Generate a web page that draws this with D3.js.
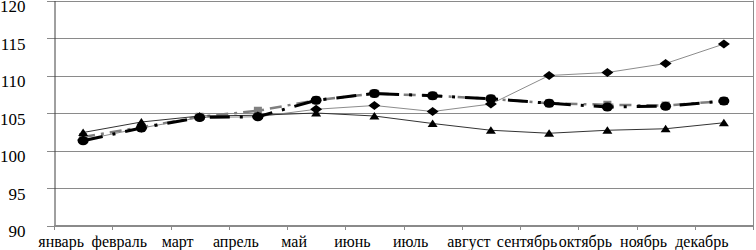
<!DOCTYPE html>
<html><head><meta charset="utf-8">
<script src="https://cdn.jsdelivr.net/npm/d3@7"></script>
<style>html,body{margin:0;padding:0;background:#fff}svg{display:block}</style>
</head><body>
<svg id="c" width="756" height="250"></svg>
<script>
const months = ["январь","февраль","март","апрель","май","июнь","июль","август","сентябрь","октябрь","ноябрь","декабрь"];
const yTicks = [90,95,100,105,110,115,120];
const seriesDiamond = [101.4,103.0,104.4,104.5,105.5,106.0,105.2,106.2,110.0,110.4,111.6,114.2];
const seriesTriangle = [102.4,103.8,104.6,104.7,105.0,104.6,103.6,102.7,102.3,102.7,102.9,103.7];
const seriesGray = [101.8,103.1,104.5,105.3,106.7,107.6,107.3,106.9,106.3,106.1,106.0,106.6];
const seriesCircle = [101.3,103.0,104.4,104.5,106.7,107.6,107.3,106.9,106.3,105.8,105.9,106.6];

const svg = d3.select("#c");
const mLeft = 54, mRight = 753, mTop = 0.5, mBottom = 225.5;
const x = d3.scaleBand().domain(months).range([mLeft, mRight]).padding(0);
const cx = m => x(m) + x.bandwidth() / 2;
const y = d3.scaleLinear().domain([90,120]).range([mBottom, mTop]);
const styleText = (sel, size) => sel.style("font-family", '"Liberation Serif"').style("font-size", size + "px").style("fill", "#000");

// gridlines
svg.append("g").selectAll("line").data(yTicks).join("line")
  .attr("x1", mLeft - 7).attr("x2", mRight).attr("y1", d => Math.round(y(d)) + 0.5).attr("y2", d => Math.round(y(d)) + 0.5)
  .attr("stroke", "#8a8a8a").attr("stroke-width", 1);
// right border
svg.append("line").attr("x1", mRight + 0.5).attr("x2", mRight + 0.5).attr("y1", mTop).attr("y2", mBottom)
  .attr("stroke", "#8a8a8a");

// left axis
const yAxis = d3.axisLeft(y).tickValues(yTicks).tickSize(0).tickPadding(29).tickFormat(d3.format("d"));
const gy = svg.append("g").attr("transform", `translate(${mLeft + 0.5},0)`).call(yAxis);
gy.select(".domain").attr("stroke", "#404040");
gy.selectAll(".tick text").attr("dy", null).attr("y", 11).call(styleText, 17);

// bottom axis line and ticks at band boundaries
svg.append("line").attr("x1", mLeft).attr("x2", mRight).attr("y1", 225.5).attr("y2", 225.5).attr("stroke", "#8a8a8a");
svg.append("g").selectAll("line").data(months.concat(["__end"])).join("line")
  .attr("x1", d => (d === "__end" ? mRight : Math.round(x(d))) + 0.5)
  .attr("x2", d => (d === "__end" ? mRight : Math.round(x(d))) + 0.5)
  .attr("y1", 225).attr("y2", 230).attr("stroke", "#8a8a8a");
svg.append("g").selectAll("text").data(months).join("text")
  .attr("x", d => cx(d) - 22).attr("y", 247).attr("text-anchor", "middle").text(d => d).call(styleText, 16);

const line = d3.line().x((d,i) => cx(months[i])).y(d => y(d));

// series lines
svg.append("path").datum(seriesGray).attr("d", line).attr("fill","none")
  .attr("stroke","#7f7f7f").attr("stroke-width",2.5).attr("stroke-dasharray","12,6,3,6");
svg.append("path").datum(seriesDiamond).attr("d", line).attr("fill","none")
  .attr("stroke","#8c8c8c").attr("stroke-width",1);
svg.append("path").datum(seriesTriangle).attr("d", line).attr("fill","none")
  .attr("stroke","#333").attr("stroke-width",1);
svg.append("path").datum(seriesCircle).attr("d", line).attr("fill","none")
  .attr("stroke","#000").attr("stroke-width",3).attr("stroke-dasharray","20,10,3,10");

// markers
svg.append("g").selectAll("rect").data(seriesGray).join("rect")
  .attr("x",(d,i)=>cx(months[i])-4).attr("y",d=>y(d)-4).attr("width",8).attr("height",8)
  .attr("fill","#808080");
svg.append("g").selectAll("ellipse").data(seriesCircle).join("ellipse")
  .attr("cx",(d,i)=>cx(months[i])).attr("cy",d=>y(d)).attr("rx",5.5).attr("ry",4.5).attr("fill","#000");
svg.append("g").selectAll("path").data(seriesDiamond).join("path")
  .attr("transform",(d,i)=>`translate(${cx(months[i])},${y(d)})`)
  .attr("d","M-6,0L0,-4.5L6,0L0,4.5Z").attr("fill","#000");
svg.append("g").selectAll("path").data(seriesTriangle).join("path")
  .attr("transform",(d,i)=>`translate(${cx(months[i])},${y(d)})`)
  .attr("d","M-5,3.5L0,-4L5,3.5Z").attr("fill","#000");
</script>
</body></html>
